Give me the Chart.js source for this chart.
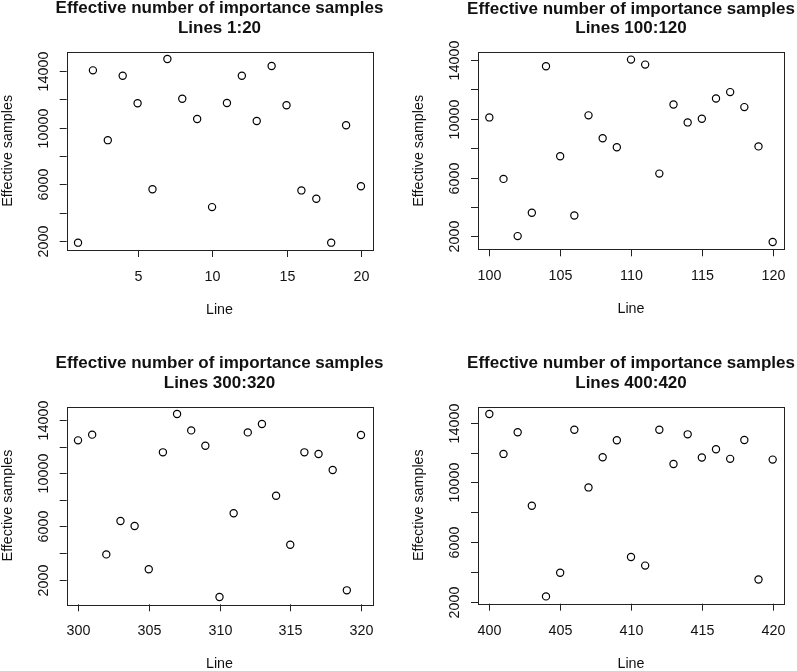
<!DOCTYPE html>
<html>
<head>
<meta charset="utf-8">
<script src="https://cdn.jsdelivr.net/npm/chart.js@4.4.1/dist/chart.umd.min.js"></script>
<style>
    body { margin: 0; background: #fff; width: 797px; height: 671px; position: relative; overflow: hidden; }
    canvas { position: absolute; }
</style>
</head>
<body>
<canvas id="c1" width="398" height="335" style="left:0;top:0"></canvas>
<canvas id="c2" width="399" height="335" style="left:398px;top:0"></canvas>
<canvas id="c3" width="398" height="336" style="left:0;top:335px"></canvas>
<canvas id="c4" width="399" height="336" style="left:398px;top:335px"></canvas>
<script>
// 数据
const mainTitle = 'Effective number of importance samples';
const subTitles = ['Lines 1:20', 'Lines 100:120', 'Lines 300:320', 'Lines 400:420'];

const lines1 = [1, 2, 3, 4, 5, 6, 7, 8, 9, 10, 11, 12, 13, 14, 15, 16, 17, 18, 19, 20];
const samples1 = [1880, 14050, 9120, 13670, 11730, 5650, 14850, 12040, 10620, 4390,
                  11750, 13670, 10470, 14360, 11590, 5570, 4980, 1880, 10170, 5860];

const lines2 = [100, 101, 102, 103, 104, 105, 106, 107, 108, 109, 110,
                111, 112, 113, 114, 115, 116, 117, 118, 119, 120];
const samples2 = [10090, 5910, 2020, 3610, 13570, 7450, 3420, 10230, 8670, 8060, 14020,
                  13680, 6270, 10970, 9750, 10000, 11380, 11810, 10790, 8120, 1620];

const lines3 = [300, 301, 302, 303, 304, 305, 306, 307, 308, 309, 310,
                311, 312, 313, 314, 315, 316, 317, 318, 319, 320];
const samples3 = [12470, 12900, 3900, 6410, 6030, 2780, 11570, 14450, 13220, 12070, 700,
                  6990, 13070, 13700, 8310, 4630, 11570, 11440, 10240, 1200, 12870];

const lines4 = [400, 401, 402, 403, 404, 405, 406, 407, 408, 409, 410,
                411, 412, 413, 414, 415, 416, 417, 418, 419, 420];
const samples4 = [14580, 11910, 13360, 8440, 2380, 3960, 13530, 9670, 11690, 12820, 5020,
                  4440, 13530, 11240, 13220, 11670, 12220, 11580, 12840, 3510, 11530];

const xTicks1 = [5, 10, 15, 20];
const xTicks2 = [100, 105, 110, 115, 120];
const xTicks3 = [300, 305, 310, 315, 320];
const xTicks4 = [400, 405, 410, 415, 420];
const yTicks = [2000, 4000, 6000, 8000, 10000, 12000, 14000];
const yTickLabels = [2000, 6000, 10000, 14000];

const FONT = '"Liberation Sans", Arial, Helvetica, sans-serif';

// R 风格的坐标范围（两端各扩展 4%）
function rRange(values) {
    const lo = Math.min(...values), hi = Math.max(...values);
    const pad = (hi - lo) * 0.04;
    return [lo - pad, hi + pad];
}

// 绘制 R 风格的边框、刻度和文字
const rAxesPlugin = {
    id: 'rAxes',
    afterDraw(chart, args, opts) {
        const ctx = chart.ctx;
        const area = chart.chartArea;
        const xs = chart.scales.x, ys = chart.scales.y;
        const tick = 7;
        ctx.save();
        ctx.strokeStyle = '#222';
        ctx.fillStyle = '#111';
        ctx.lineWidth = 1;
        ctx.strokeRect(Math.round(area.left) + 0.5, Math.round(area.top) + 0.5,
                       Math.round(area.right - area.left), Math.round(area.bottom - area.top));

        ctx.font = '14.3px ' + FONT;
        ctx.textAlign = 'center';
        ctx.textBaseline = 'middle';
        // x 轴
        opts.xTicks.forEach(v => {
            const px = Math.round(xs.getPixelForValue(v)) + 0.5;
            ctx.beginPath();
            ctx.moveTo(px, area.bottom);
            ctx.lineTo(px, area.bottom + tick);
            ctx.stroke();
            ctx.fillText(String(v), px, area.bottom + 27);
        });
        // y 轴
        yTicks.forEach(v => {
            const py = Math.round(ys.getPixelForValue(v)) + 0.5;
            if (py < area.top || py > area.bottom) return;
            ctx.beginPath();
            ctx.moveTo(area.left, py);
            ctx.lineTo(area.left - tick, py);
            ctx.stroke();
            if (yTickLabels.includes(v)) {
                ctx.save();
                ctx.translate(area.left - 23, py);
                ctx.rotate(-Math.PI / 2);
                ctx.fillText(String(v), 0, 0);
                ctx.restore();
            }
        });
        // 坐标轴标题
        const cx = (area.left + area.right) / 2;
        const cy = (area.top + area.bottom) / 2;
        ctx.fillText('Line', cx, area.bottom + 60);
        ctx.save();
        ctx.translate(area.left - 59, cy);
        ctx.rotate(-Math.PI / 2);
        ctx.fillText('Effective samples', 0, 0);
        ctx.restore();
        // 标题
        ctx.font = 'bold 17px ' + FONT;
        ctx.fillText(mainTitle, cx, area.top - 43);
        ctx.fillText(opts.subTitle, cx, area.top - 23.5);
        ctx.restore();
    }
};

function makePanel(id, xs, ys, xTicks, subTitle, padding) {
    const [xMin, xMax] = rRange(xs);
    const [yMin, yMax] = rRange(ys);
    new Chart(document.getElementById(id).getContext('2d'), {
        type: 'scatter',
        data: {
            datasets: [{
                data: xs.map((x, i) => ({ x: x, y: ys[i] })),
                pointStyle: 'circle',
                pointRadius: 3.6,
                borderColor: '#000',
                backgroundColor: 'rgba(0,0,0,0)',
                borderWidth: 1.2
            }]
        },
        options: {
            responsive: false,
            animation: false,
            layout: { padding: padding },
            plugins: {
                legend: { display: false },
                tooltip: { enabled: false },
                rAxes: { xTicks: xTicks, subTitle: subTitle }
            },
            scales: {
                x: {
                    type: 'linear', min: xMin, max: xMax,
                    grid: { display: false, drawTicks: false },
                    border: { display: false },
                    ticks: { display: false }
                },
                y: {
                    type: 'linear', min: yMin, max: yMax,
                    grid: { display: false, drawTicks: false },
                    border: { display: false },
                    ticks: { display: false }
                }
            }
        },
        plugins: [rAxesPlugin]
    });
}

makePanel('c1', lines1, samples1, xTicks1, subTitles[0], { left: 66.7, top: 51.7, right: 25.7, bottom: 85 });
makePanel('c2', lines2, samples2, xTicks2, subTitles[1], { left: 80, top: 52.3, right: 13, bottom: 85.7 });
makePanel('c3', lines3, samples3, xTicks3, subTitles[2], { left: 66.7, top: 71.7, right: 25.7, bottom: 66.7 });
makePanel('c4', lines4, samples4, xTicks4, subTitles[3], { left: 80, top: 71.7, right: 13, bottom: 67.3 });
</script>
</body>
</html>
